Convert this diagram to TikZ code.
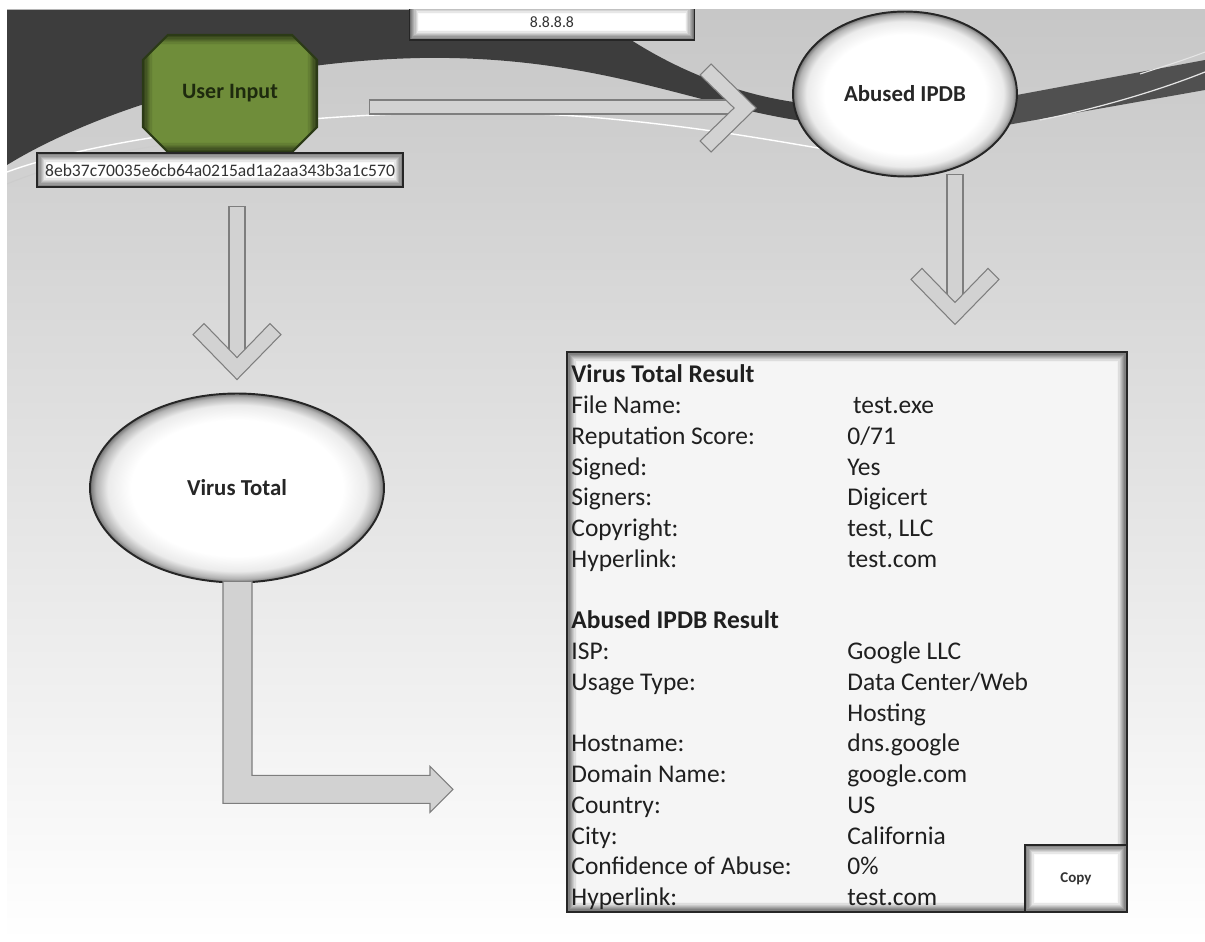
\documentclass[tikz,border=0pt]{standalone}
\usepackage{fontspec}
\setmainfont{Carlito}
\usepackage{tikz}
\usetikzlibrary{shapes,shapes.misc,arrows}
\usetikzlibrary{positioning}

\definecolor{swoosh}{HTML}{3D3D3D}
\definecolor{arrowfill}{HTML}{D2D2D2}
\definecolor{arrowline}{HTML}{7E7E7E}
\definecolor{inputgreen}{HTML}{6F8D3A}
\definecolor{inputedge}{HTML}{2B3A16}
\definecolor{inputtext}{HTML}{1E2A0E}
\definecolor{boxfill}{HTML}{F5F5F5}

\pgfdeclareradialshading{glow}{\pgfpoint{0bp}{0bp}}{color(0bp)=(white); color(18bp)=(white); color(22bp)=(black!8); color(24bp)=(black!30); color(25bp)=(black!55); color(50bp)=(black!55)}

\tikzset{
  innershade/.style={path picture={
    \foreach \k in {1,...,8}{
      \pgfmathsetmacro\op{0.62-\k*0.075}
      \draw[black, opacity=\op, line width=0.7pt]
        ([shift={(\k*0.7pt-0.35pt,\k*0.7pt-0.35pt)}]path picture bounding box.south west)
        rectangle
        ([shift={(-\k*0.7pt+0.35pt,-\k*0.7pt+0.35pt)}]path picture bounding box.north east);
    }}},
  chevron/.pic={
    \draw[bigarrow] (-45,-44) -- (0,0) -- (-45,44) -- (-56,33) -- (-22,0) -- (-56,-33) -- cycle;
  }
}
\tikzstyle{oval} = [ellipse, draw=black!85, line width=1.1pt, shading=glow,
    inner sep=0pt, text=black!85, font=\bfseries\fontsize{13}{15}\selectfont]
\tikzstyle{field} = [rectangle, draw=black!85, line width=1.1pt, fill=white,
    innershade, inner sep=0pt, text=black!80]
\tikzstyle{octo} = [chamfered rectangle, chamfered rectangle xsep=0.32cm,
    chamfered rectangle ysep=0.32cm, draw=inputedge, line width=1.2pt,
    fill=inputgreen, innershade, inner sep=0pt, text=inputtext,
    font=\bfseries\fontsize{12.5}{14}\selectfont]
\tikzstyle{bigarrow} = [draw=arrowline, line width=0.6pt, fill=arrowfill]

\begin{document}
\begin{tikzpicture}[x=0.02cm, y=-0.02cm]
    \useasboundingbox (0,0) rectangle (1205,942);
    \fill[white] (0,0) rectangle (1205,942);
    \begin{scope}
    \clip (7,10) rectangle (1205,942);

    % Background
    \shade[top color=black!22, middle color=black!9, bottom color=white] (7,10) rectangle (1205,942);
    \fill[swoosh] (7,10) -- (590,10) .. controls (640,52) and (720,95) .. (810,104)
        -- (810,122) .. controls (700,108) and (600,55) .. (420,58)
        .. controls (230,62) and (80,120) .. (7,165) -- cycle;
    \fill[swoosh!90] (990,100) -- (1205,60) -- (1205,90) -- (990,128) -- cycle;
    \draw[white, line width=0.8pt] (7,172) .. controls (120,130) and (400,100) .. (600,118)
        .. controls (700,127) and (770,140) .. (830,150);
    \draw[white!80!black, line width=0.6pt] (7,184) .. controls (60,162) and (120,150) .. (200,140);
    \draw[white!90!black, line width=0.7pt] (1040,120) .. controls (1100,108) and (1160,90) .. (1205,72);
    \draw[white!90!black, line width=0.6pt] (1140,74) .. controls (1165,66) and (1190,58) .. (1205,52);

    % Place nodes
    \node[field, minimum width=5.7cm, minimum height=0.72cm,
        font=\fontsize{9}{11}\selectfont] (dns) at (552,22) {8.8.8.8};
    \node[octo, minimum width=3.48cm, minimum height=2.34cm] (input) at (230,93.5) {User Input};
    \node[field, minimum width=7.32cm, minimum height=0.68cm,
        font=\fontsize{10}{12}\selectfont] (hash) at (220,170) {8eb37c70035e6cb64a0215ad1a2aa343b3a1c570};
    \node[oval, minimum width=4.48cm, minimum height=3.3cm] (ipdb) at (905,94) {Abused IPDB};
    \node[oval, minimum width=5.88cm, minimum height=3.78cm] (vt) at (237,488) {Virus Total};
    \node[field, fill=boxfill, minimum width=11.2cm, minimum height=11.2cm] (result) at (847,632) {};
    \node[field, minimum width=2.04cm, minimum height=1.34cm, anchor=south east,
        font=\bfseries\fontsize{8.5}{10}\selectfont] (copy) at (result.south east) {Copy};
    \node[anchor=north west, inner sep=0pt, text=black!88,
        font=\fontsize{14.5}{17.5}\selectfont] (fields) at ([shift={(0.1cm,-0.2cm)}]result.north west) {%
        \begin{tabular}{@{}p{5.52cm}@{}l@{}}
        \textbf{Virus Total Result} & \\
        File Name: & \ test.exe\\
        Reputation Score: & 0/71\\
        Signed: & Yes\\
        Signers: & Digicert\\
        Copyright: & test, LLC\\
        Hyperlink: & test.com\\
        & \\
        \textbf{Abused IPDB Result} & \\
        ISP: & Google LLC\\
        Usage Type: & Data Center/Web\\
        & Hosting\\
        Hostname: & dns.google\\
        Domain Name: & google.com\\
        Country: & US\\
        City: & California\\
        Confidence of Abuse: & 0\%\\
        Hyperlink: & test.com
        \end{tabular}};

    % Draw edges
    \path ([shift={(-36,14)}]ipdb.west) coordinate (ipdbin);
    \path ([shift={(0,-13)}]vt.north) coordinate (vtin);
    \path ([shift={(50,147)}]ipdb.south) coordinate (resultin);
    \draw[bigarrow] ([xshift=1.02cm,yshift=-0.13cm]input.east) rectangle ([shift={(-22,6)}]ipdbin);
    \pic at (ipdbin) {chevron};
    \draw[bigarrow] ([shift={(-8,-173)}]vtin) rectangle ([shift={(8,-20)}]vtin);
    \pic[rotate=-90] at (vtin) {chevron};
    \draw[bigarrow] ([shift={(-8,-150)}]resultin) rectangle ([shift={(8,-20)}]resultin);
    \pic[rotate=-90] at (resultin) {chevron};
    \draw[bigarrow] ([shift={(-14,-2)}]vt.south) -- ++(0,222) -- ++(207,0) -- ++(0,9)
        -- ++(23,-23) -- ++(-23,-23) -- ++(0,9) -- ++(-178,0) -- ++(0,-194) -- cycle;
    \end{scope}
\end{tikzpicture}
\end{document}
